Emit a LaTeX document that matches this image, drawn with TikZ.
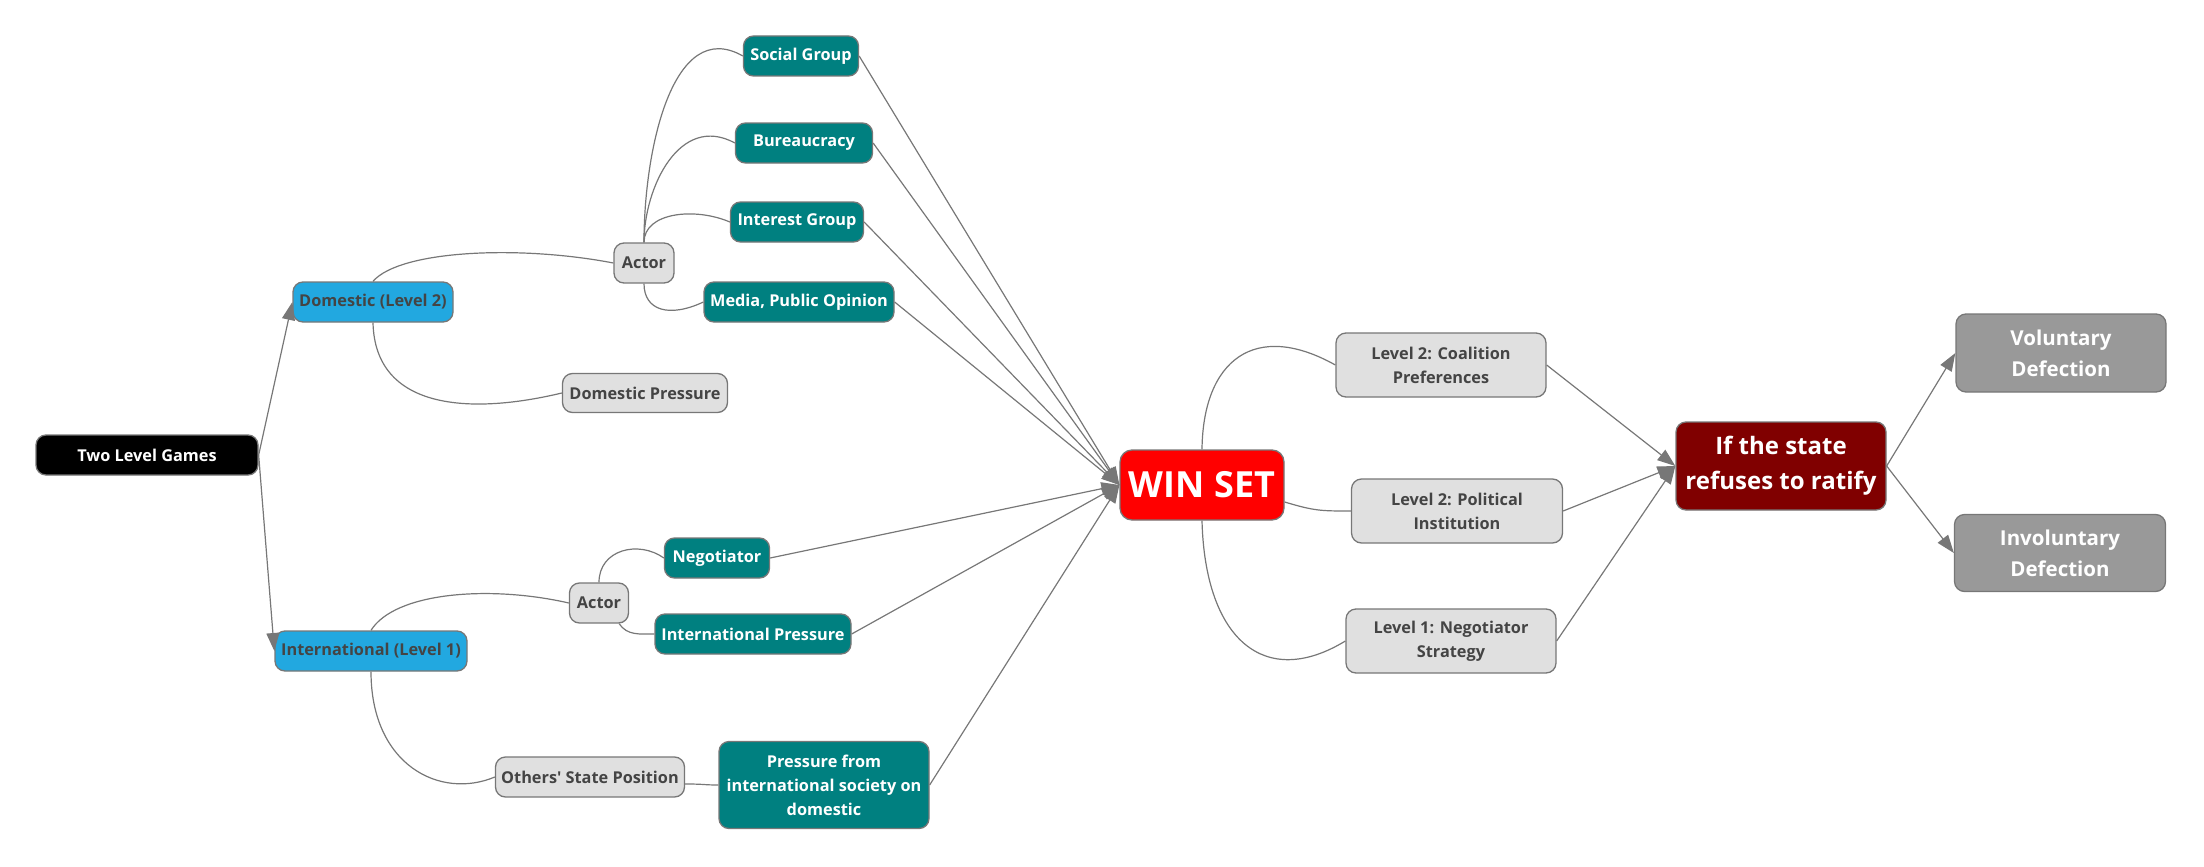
\documentclass[tikz,border=0pt]{standalone}
\usepackage{fontspec}
\setmainfont{Open Sans}
\usetikzlibrary{arrows.meta}
\definecolor{bordergray}{HTML}{777777}
\definecolor{linegray}{HTML}{777777}
\definecolor{lightc}{HTML}{E0E0E0}
\definecolor{darktext}{HTML}{444444}
\definecolor{tealc}{HTML}{008080}
\definecolor{bluec}{HTML}{22A8E0}
\definecolor{redc}{HTML}{FF0000}
\definecolor{maroonc}{HTML}{800000}
\definecolor{grayc}{HTML}{999999}
\begin{document}
\begin{tikzpicture}[x=1pt,y=-1pt,
  box/.style={draw=bordergray, line width=1.3pt, rounded corners=10pt, inner sep=0pt, align=center,
    font=\fontsize{16.3}{24}\selectfont\bfseries},
  lightbox/.style={box, fill=lightc, text=darktext},
  tealbox/.style={box, fill=tealc, text=white},
  bluebox/.style={box, fill=bluec, text=darktext},
  link/.style={draw=linegray, line width=1.2pt},
  arr/.style={link, -{Triangle[length=18pt,width=13pt]}},
]
\useasboundingbox (0,0) rectangle (2204,867);

% nodes
\node[box, fill=black, text=white, minimum width=222, minimum height=40] (tlg) at (147,455) {Two Level Games};
\node[bluebox, minimum width=160, minimum height=40] (dom) at (373,302) {Domestic (Level 2)};
\node[bluebox, minimum width=192, minimum height=40] (intl) at (371,651) {International (Level 1)};
\node[lightbox, minimum width=60, minimum height=40] (act1) at (644,263) {Actor};
\node[lightbox, minimum width=165, minimum height=39] (dp) at (645,393) {Domestic Pressure};
\node[tealbox, minimum width=115, minimum height=40] (sg) at (801,56) {Social Group};
\node[tealbox, minimum width=137, minimum height=40] (bur) at (804,143) {Bureaucracy};
\node[tealbox, minimum width=133, minimum height=40] (ig) at (797,222) {Interest Group};
\node[tealbox, minimum width=190, minimum height=40] (med) at (799,302) {Media, Public Opinion};
\node[lightbox, minimum width=59, minimum height=40] (act2) at (599,603) {Actor};
\node[tealbox, minimum width=105, minimum height=40] (neg) at (717,558) {Negotiator};
\node[tealbox, minimum width=196, minimum height=40] (ip) at (753,634) {International Pressure};
\node[lightbox, minimum width=189, minimum height=40] (os) at (590,777) {Others\textquotesingle{} State Position};
\node[tealbox, minimum width=210, minimum height=87] (pr) at (824,785) {Pressure from\\international society on\\domestic};
\node[box, fill=redc, text=white, rounded corners=12pt, minimum width=164, minimum height=70,
  font=\fontsize{36}{40}\selectfont\bfseries] (win) at (1202,485) {WIN SET};
\node[lightbox, minimum width=210, minimum height=64] (coal) at (1441,365) {Level 2: Coalition\\Preferences};
\node[lightbox, minimum width=211, minimum height=64] (pol) at (1457,511) {Level 2: Political\\Institution};
\node[lightbox, minimum width=210, minimum height=64] (strat) at (1451,641) {Level 1: Negotiator\\Strategy};
\node[box, fill=maroonc, text=white, minimum width=210, minimum height=88,
  font=\fontsize{24}{35}\selectfont\bfseries] (state) at (1781,466) {If the state\\refuses to ratify};
\node[box, fill=grayc, text=white, minimum width=210, minimum height=78,
  font=\fontsize{20.5}{31}\selectfont\bfseries] (vol) at (2061,353) {Voluntary\\Defection};
\node[box, fill=grayc, text=white, minimum width=211, minimum height=77,
  font=\fontsize{20.5}{31}\selectfont\bfseries] (invol) at (2060,553) {Involuntary\\Defection};

% arrows from root
\draw[arr] (tlg.east) -- (dom.west);
\draw[arr] (tlg.east) -- (intl.west);

% domestic branch
\draw[link] (dom.north) .. controls (400,250) and (520,245) .. (act1.west);
\draw[link] (dom.south) .. controls (375,410) and (470,415) .. (dp.west);
\draw[link] (act1.north) .. controls +(0,-93) and +(-70,-40) .. (sg.west);
\draw[link] (act1.north) .. controls +(0,-55) and +(-55,-30) .. (bur.west);
\draw[link] (act1.north) .. controls +(0,-30) and +(-35,-15) .. (ig.west);
\draw[link] (act1.south) .. controls +(0,27) and +(-34,16) .. (med.west);

% international branch
\draw[link] (intl.north) .. controls (395,592) and (490,585) .. (act2.west);
\draw[link] (act2.north) .. controls +(0,-33) and +(-25,-18) .. (neg.west);
\draw[link] ([xshift=-10pt]act2.south east) .. controls +(8,12) and +(-15,0) .. (ip.west);
\draw[link] (intl.south) .. controls (371,765) and (440,800) .. (os.west);
\draw[link] ([yshift=-7pt]os.east) .. controls +(20,0) and +(-15,0) .. (pr.west);

% into WIN SET
\draw[arr] (sg.east) -- (win.west);
\draw[arr] (bur.east) -- (win.west);
\draw[arr] (ig.east) -- (win.west);
\draw[arr] (med.east) -- (win.west);
\draw[arr] (neg.east) -- (win.west);
\draw[arr] (ip.east) -- (win.west);
\draw[arr] (pr.east) -- (win.west);

% from WIN SET
\draw[link] (win.north) .. controls (1203,360) and (1255,320) .. (coal.west);
\draw[link] ([yshift=-17pt]win.east) .. controls +(30,9) and +(-30,0) .. (pol.west);
\draw[link] (win.south) .. controls (1205,640) and (1265,690) .. (strat.west);

% into state
\draw[arr] (coal.east) -- (state.west);
\draw[arr] (pol.east) -- (state.west);
\draw[arr] (strat.east) -- (state.west);
\draw[arr] (state.east) -- (vol.west);
\draw[arr] (state.east) -- (invol.west);
\end{tikzpicture}
\end{document}
